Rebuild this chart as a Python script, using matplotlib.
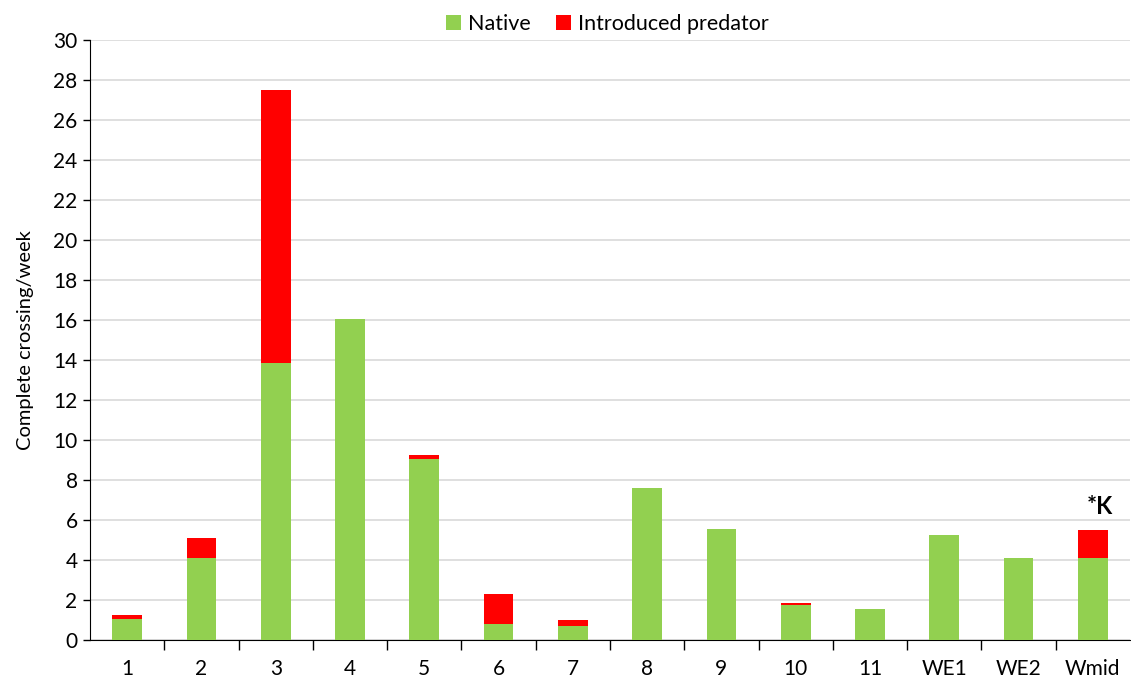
import matplotlib
matplotlib.use("Agg")
import matplotlib.pyplot as plt
import numpy as np

categories = ["1", "2", "3", "4", "5", "6", "7", "8", "9", "10", "11", "WE1", "WE2", "Wmid"]
native = [1.02, 4.1, 13.85, 16.05, 9.05, 0.8, 0.67, 7.6, 5.55, 1.72, 1.52, 5.22, 4.07, 4.07]
introduced = [0.2, 0.97, 13.65, 0.0, 0.2, 1.47, 0.3, 0.0, 0.0, 0.1, 0.0, 0.0, 0.0, 1.4]
yticks = list(range(0, 31, 2))

plt.rcParams['font.family'] = ['Lato', 'DejaVu Sans']

fig = plt.figure(figsize=(11.31, 6.84), dpi=100)
ax = fig.add_axes([0.0796, 0.065, 0.9195, 0.8765])

x = np.arange(len(categories))
green = "#92D050"
red = "#FF0000"
ax.bar(x, native, width=0.4, color=green, linewidth=0, label="Native", zorder=3)
ax.bar(x, introduced, width=0.4, bottom=native, color=red, linewidth=0,
       label="Introduced predator", zorder=3)

ax.set_xlim(-0.5, len(categories) - 0.5)
ax.set_ylim(0, 30)
ax.set_yticks(yticks)
ax.set_yticklabels([str(t) for t in yticks], fontsize=15)
ax.yaxis.grid(True, color="#d9d9d9", linewidth=1.2, zorder=0)
ax.set_axisbelow(True)

ax.set_xticks(x)
ax.set_xticklabels(categories, fontsize=15)
ax.tick_params(axis='x', which='major', length=0, pad=14)
ax.set_xticks(np.arange(0.5, len(categories) - 0.5, 1.0), minor=True)
ax.tick_params(axis='x', which='minor', length=7, width=1, direction='out', color='black')
ax.tick_params(axis='y', length=5, width=1, direction='out', pad=4)

for s in ['top', 'right']:
    ax.spines[s].set_visible(False)
ax.spines['left'].set_color('black')
ax.spines['bottom'].set_color('black')

ax.set_ylabel("Complete crossing/week", fontsize=14.5, labelpad=14)

ax.text(x[-1] + 0.1, native[-1] + introduced[-1] + 0.6, "*K", fontsize=17, fontweight='bold',
        ha='center', va='bottom')

fig.legend(loc='upper center', bbox_to_anchor=(0.537, 1.008), ncol=2, frameon=False, fontsize=15.5,
           handlelength=0.7, handleheight=0.7, handletextpad=0.3, columnspacing=1.2)

fig.savefig("out.png", dpi=100)
